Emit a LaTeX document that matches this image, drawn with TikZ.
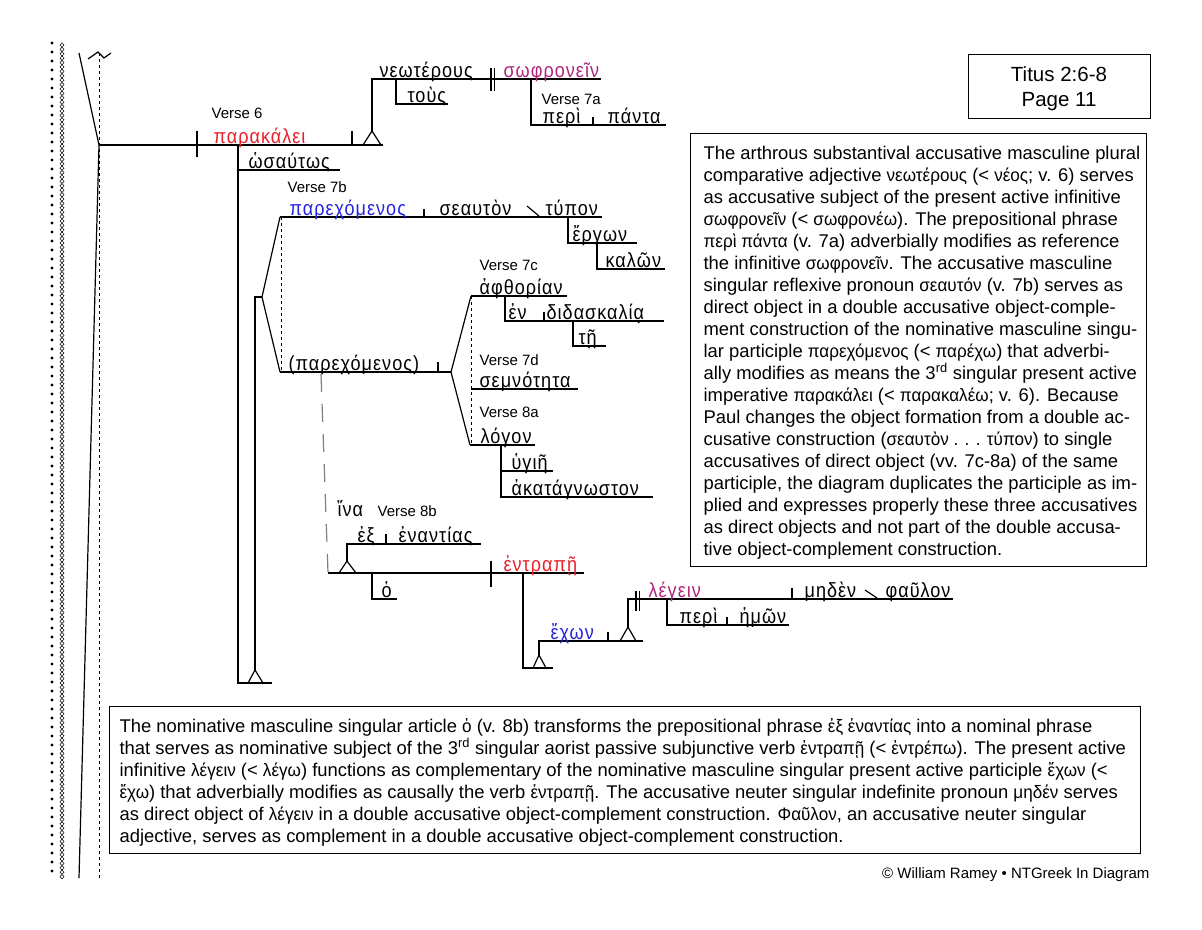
\documentclass[tikz,border=0pt]{standalone}
\usepackage{fontspec}
\setmainfont{Liberation Sans}
\newfontfamily\grk[LetterSpace=5,FakeStretch=0.88]{Liberation Sans}
\newfontfamily\grt[FakeStretch=0.95]{Liberation Sans}
\definecolor{gred}{HTML}{E8202A}
\definecolor{gmag}{HTML}{B0267E}
\definecolor{gblue}{HTML}{2424E0}
\newcommand\gkt[1]{{\grt\fontsize{18}{22}\selectfont #1}}
\tikzset{
  gw/.style={font=\grk\fontsize{20.5}{22}\selectfont, inner sep=0pt, anchor=base west},
  vl/.style={font=\fontsize{15}{17}\selectfont, inner sep=0pt, anchor=base west},
  tx/.style={font=\fontsize{18.4}{22}\selectfont, inner sep=0pt, anchor=base west},
}
\begin{document}
\begin{tikzpicture}[x=1pt,y=-1pt,line width=1.2pt]
\useasboundingbox (0,0) rectangle (1202,929);
\fill[white] (0,0) rectangle (1202,929);
% margin decoration
\foreach \i in {0,...,92} \fill (52,43+9*\i) circle (1.7);
\foreach \i in {0,...,189} \draw[line width=0.5pt] (62,45+4.4*\i) ++(0,-2.2) -- ++(2,2.2) -- ++(-2,2.2) -- ++(-2,-2.2) -- cycle;
\draw[dashed,line width=0.8pt] (99,53) -- (99,878);
\draw (79,53) -- (99,145) -- (79,878);
\draw (88,59) -- (98,52) -- (104,58) -- (111,53);
% main clause
\draw (99,145) -- (383,145);
\draw (197,131) -- (197,157);
\draw (352,131) -- (352,145);
\draw (363,145) -- (372,131) -- (381,145);
\draw (372,131) -- (372,79) -- (601,79);
\draw (491,68) -- (491,91);
\draw (494.5,68) -- (494.5,91);
\draw (396,79) -- (396,104) -- (448,104);
\draw (531,79) -- (531,125) -- (666,125);
\draw (593,117) -- (593,125);
% adverb and participle stand
\draw (238,145) -- (238,683) -- (272,683);
\draw (238,170) -- (340,170);
\draw (248,683) -- (255,670) -- (263,683);
\draw (255,670) -- (255,297) -- (262,297);
\draw (280,217) -- (262,297) -- (280,372);
\draw[dashed,line width=0.8pt] (281,217) -- (281,372);
\draw (280,217) -- (602,217);
\draw (424,209) -- (424,217);
\draw (527,206) -- (539,216);
\draw (568,217) -- (568,243) -- (637,243);
\draw (597,243) -- (597,269) -- (665,269);
\draw (280,372) -- (451,372);
\draw (438,362) -- (438,372);
\draw (471,296) -- (451,372) -- (470,445);
\draw[dashed,line width=0.8pt] (471,296) -- (471,445);
\draw (471,296) -- (567,296);
\draw (505,296) -- (505,321) -- (664,321);
\draw (544,312) -- (544,321);
\draw (573,321) -- (573,346) -- (606,346);
\draw (471,389) -- (578,389);
\draw (470,445) -- (535,445);
\draw (501,445) -- (501,497) -- (653,497);
\draw (501,471) -- (553,471);
% dashed connector to hina clause
\draw[gray,dash pattern=on 18pt off 12pt] (321,374) -- (328,573);
% hina clause
\draw (328,573) -- (584,573);
\draw (339,573) -- (347,561) -- (356,573);
\draw (347,561) -- (347,544) -- (481,544);
\draw (386,534) -- (386,544);
\draw (491,561) -- (491,587);
\draw (372,573) -- (372,599) -- (397,599);
\draw (523,573) -- (523,668) -- (553,668);
\draw (533,668) -- (539,655) -- (546,668);
\draw (539,655) -- (539,641) -- (643,641);
\draw (608,632) -- (608,641);
\draw (620,641) -- (628,627) -- (636,641);
\draw (628,627) -- (628,599) -- (953,599);
\draw (636,591) -- (636,611);
\draw (639.5,591) -- (639.5,611);
\draw (792,588) -- (792,599);
\draw (865,590) -- (877,598);
\draw (667,599) -- (667,625) -- (789,625);
\draw (727,617) -- (727,625);
% verse labels
\node[vl] (v6) at (211,118) {Verse 6};
\node[vl] (v7a) at (541,104) {Verse 7a};
\node[vl] (v7b) at (287,192) {Verse 7b};
\node[vl] (v7c) at (479,270) {Verse 7c};
\node[vl] (v7d) at (479,365) {Verse 7d};
\node[vl] (v8a) at (479,417) {Verse 8a};
\node[vl] (v8b) at (377,516) {Verse 8b};
% Greek words
\node[gw,text=gred] (w1) at (213,143.5) {παρακάλει};
\node[gw] (w2) at (248,168.5) {ὡσαύτως};
\node[gw] (w3) at (379,77.5) {νεωτέρους};
\node[gw,text=gmag] (w4) at (503,77.5) {σωφρονεῖν};
\node[gw] (w5) at (407,102.5) {τοὺς};
\node[gw] (w6) at (542,123.5) {περὶ};
\node[gw] (w7) at (607,123.5) {πάντα};
\node[gw,text=gblue] (w8) at (289,215.5) {παρεχόμενος};
\node[gw] (w9) at (439,215.5) {σεαυτὸν};
\node[gw] (w10) at (545,215.5) {τύπον};
\node[gw] (w11) at (572,241.5) {ἔργων};
\node[gw] (w12) at (605,267.5) {καλῶν};
\node[gw] (w13) at (479,294.5) {ἀφθορίαν};
\node[gw] (w14) at (508,319.5) {ἐν};
\node[gw] (w15) at (546,319.5) {διδασκαλίᾳ};
\node[gw] (w16) at (578,344.5) {τῇ};
\node[gw] (w17) at (288,370.5) {(παρεχόμενος)};
\node[gw] (w18) at (479,387.5) {σεμνότητα};
\node[gw] (w19) at (480,443.5) {λόγον};
\node[gw] (w20) at (511,469.5) {ὑγιῆ};
\node[gw] (w21) at (511,495.5) {ἀκατάγνωστον};
\node[gw] (w22) at (337,516) {ἵνα};
\node[gw] (w23) at (357,542.5) {ἐξ};
\node[gw] (w24) at (398,542.5) {ἐναντίας};
\node[gw,text=gred] (w25) at (503,571.5) {ἐντραπῇ};
\node[gw] (w26) at (381,597.5) {ὁ};
\node[gw,text=gblue] (w27) at (550,639.5) {ἔχων};
\node[gw,text=gmag] (w28) at (648,597.5) {λέγειν};
\node[gw] (w29) at (804,597.5) {μηδὲν};
\node[gw] (w30) at (885,597.5) {φαῦλον};
\node[gw] (w31) at (679,623.5) {περὶ};
\node[gw] (w32) at (739,623.5) {ἡμῶν};
% title box
\draw[line width=1pt] (968,54) rectangle (1150,118);
\node[font=\fontsize{20.5}{24}\selectfont,inner sep=0pt,anchor=base] (t1) at (1059,81) {Titus 2:6-8};
\node[font=\fontsize{20.5}{24}\selectfont,inner sep=0pt,anchor=base] (t2) at (1059,106) {Page 11};
% right note box
\draw[line width=1pt] (690,133) rectangle (1146,566);
\node[tx] (r1) at (703,159) {The arthrous substantival accusative masculine plural};
\node[tx] (r2) at (703,181) {comparative adjective \gkt{νεωτέρους} (< \gkt{νέος}; v. 6) serves};
\node[tx] (r3) at (703,203) {as accusative subject of the present active infinitive};
\node[tx] (r4) at (703,225) {\gkt{σωφρονεῖν} (< \gkt{σωφρονέω}). The prepositional phrase};
\node[tx] (r5) at (703,247) {\gkt{περὶ πάντα} (v. 7a) adverbially modifies as reference};
\node[tx] (r6) at (703,269) {the infinitive \gkt{σωφρονεῖν}. The accusative masculine};
\node[tx] (r7) at (703,291) {singular reflexive pronoun \gkt{σεαυτόν} (v. 7b) serves as};
\node[tx] (r8) at (703,313) {direct object in a double accusative object-comple-};
\node[tx] (r9) at (703,335) {ment construction of the nominative masculine singu-};
\node[tx] (r10) at (703,357) {lar participle \gkt{παρεχόμενος} (< \gkt{παρέχω}) that adverbi-};
\node[tx] (r11) at (703,379) {ally modifies as means the 3\textsuperscript{rd} singular present active};
\node[tx] (r12) at (703,401) {imperative \gkt{παρακάλει} (< \gkt{παρακαλέω}; v. 6). Because};
\node[tx] (r13) at (703,423) {Paul changes the object formation from a double ac-};
\node[tx] (r14) at (703,445) {cusative construction (\gkt{σεαυτὸν . . . τύπον}) to single};
\node[tx] (r15) at (703,467) {accusatives of direct object (vv. 7c-8a) of the same};
\node[tx] (r16) at (703,489) {participle, the diagram duplicates the participle as im-};
\node[tx] (r17) at (703,511) {plied and expresses properly these three accusatives};
\node[tx] (r18) at (703,533) {as direct objects and not part of the double accusa-};
\node[tx] (r19) at (703,555) {tive object-complement construction.};
% bottom note box
\draw[line width=1pt] (109,706) rectangle (1140,853);
\node[tx] (b1) at (119,732) {The nominative masculine singular article \gkt{ὁ} (v. 8b) transforms the prepositional phrase \gkt{ἐξ ἐναντίας} into a nominal phrase};
\node[tx] (b2) at (119,754) {that serves as nominative subject of the 3\textsuperscript{rd} singular aorist passive subjunctive verb \gkt{ἐντραπῇ} (< \gkt{ἐντρέπω}). The present active};
\node[tx] (b3) at (119,776) {infinitive \gkt{λέγειν} (< \gkt{λέγω}) functions as complementary of the nominative masculine singular present active participle \gkt{ἔχων} (<};
\node[tx] (b4) at (119,798) {\gkt{ἔχω}) that adverbially modifies as causally the verb \gkt{ἐντραπῇ}. The accusative neuter singular indefinite pronoun \gkt{μηδέν} serves};
\node[tx] (b5) at (119,820) {as direct object of \gkt{λέγειν} in a double accusative object-complement construction. \gkt{Φαῦλον}, an accusative neuter singular};
\node[tx] (b6) at (119,842) {adjective, serves as complement in a double accusative object-complement construction.};
% footer
\node[font=\fontsize{15}{17}\selectfont,inner sep=0pt,anchor=base east] (foot) at (1150,878) {© William Ramey • NTGreek In Diagram};
\end{tikzpicture}
\end{document}
